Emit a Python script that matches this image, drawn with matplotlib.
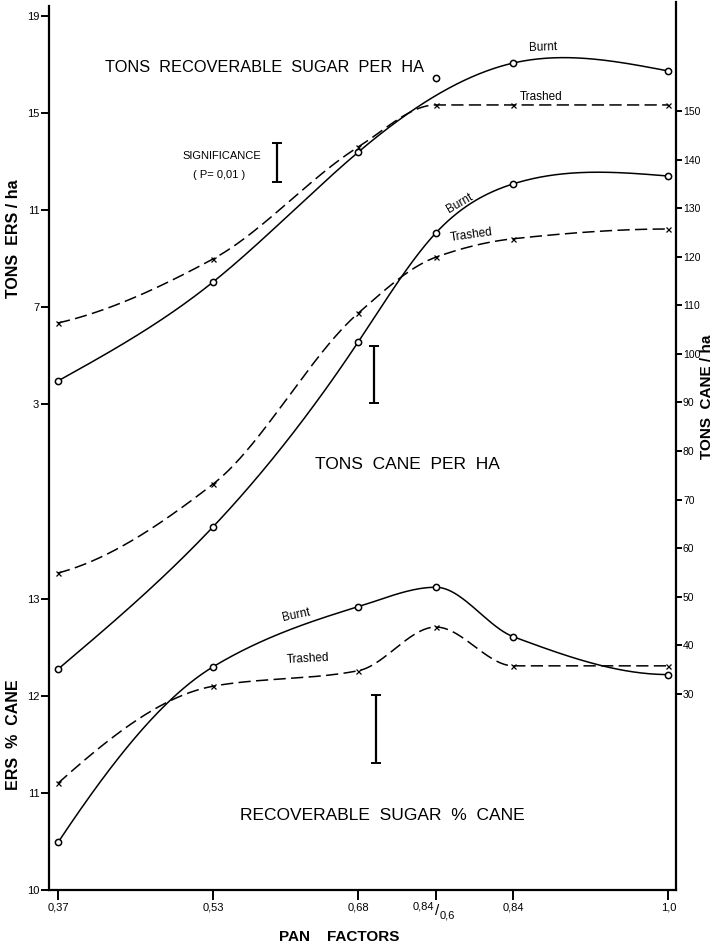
import numpy as np
import matplotlib
matplotlib.use('Agg')
import matplotlib.pyplot as plt

# ---------------- data ----------------
pan_pos = [0.37, 0.53, 0.68, 0.76, 0.84, 1.0]
pan_labels = ['0,37', '0,53', '0,68', '', '0,84', '1,0']

ers_ha_burnt = [3.95, 8.03, 13.39, 16.44, 17.06, 16.73]
ers_ha_trashed = [6.34, 8.98, 13.60, 15.33, 15.33, 15.33]
cane_burnt = [35.1, 64.4, 102.5, 124.9, 135.0, 136.6]
cane_trashed = [54.9, 73.2, 108.4, 119.9, 123.7, 125.7]
ers_pct_burnt = [10.49, 12.30, 12.92, 13.12, 12.61, 12.22]
ers_pct_trashed = [11.10, 12.10, 12.26, 12.71, 12.31, 12.31]

# significance (LSD, P=0.01)
sig_ers_ha = 1.6
sig_cane = 11.7
sig_pct = 0.70

ers_ticks = [19, 15, 11, 7, 3]
pct_ticks = [13, 12, 11, 10]
cane_ticks = [150, 140, 130, 120, 110, 100, 90, 80, 70, 60, 50, 40, 30]


# ---------------- smoothing helpers ----------------
def natural_spline(x, y, xs):
    x = np.asarray(x, float); y = np.asarray(y, float)
    n = len(x); h = np.diff(x)
    A = np.zeros((n, n)); r = np.zeros(n)
    A[0, 0] = A[-1, -1] = 1.0
    for i in range(1, n - 1):
        A[i, i - 1] = h[i - 1]; A[i, i] = 2 * (h[i - 1] + h[i]); A[i, i + 1] = h[i]
        r[i] = 3 * ((y[i + 1] - y[i]) / h[i] - (y[i] - y[i - 1]) / h[i - 1])
    c = np.linalg.solve(A, r)
    b = (y[1:] - y[:-1]) / h - h * (2 * c[:-1] + c[1:]) / 3
    d = (c[1:] - c[:-1]) / (3 * h)
    idx = np.clip(np.searchsorted(x, xs) - 1, 0, n - 2)
    t = xs - x[idx]
    return y[idx] + b[idx] * t + c[idx] * t ** 2 + d[idx] * t ** 3


def pchip(x, y, xs):
    x = np.asarray(x, float); y = np.asarray(y, float)
    n = len(x); h = np.diff(x); dl = np.diff(y) / h
    d = np.zeros(n)
    for k in range(1, n - 1):
        if dl[k - 1] * dl[k] > 0:
            w1 = 2 * h[k] + h[k - 1]; w2 = h[k] + 2 * h[k - 1]
            d[k] = (w1 + w2) / (w1 / dl[k - 1] + w2 / dl[k])

    def edge(h0, h1, m0, m1):
        dd = ((2 * h0 + h1) * m0 - h0 * m1) / (h0 + h1)
        if np.sign(dd) != np.sign(m0):
            dd = 0.0
        elif np.sign(m0) != np.sign(m1) and abs(dd) > 3 * abs(m0):
            dd = 3 * m0
        return dd
    d[0] = edge(h[0], h[1], dl[0], dl[1])
    d[-1] = edge(h[-1], h[-2], dl[-1], dl[-2])
    idx = np.clip(np.searchsorted(x, xs) - 1, 0, n - 2)
    t = (xs - x[idx]) / h[idx]
    h00 = 2 * t ** 3 - 3 * t ** 2 + 1; h10 = t ** 3 - 2 * t ** 2 + t
    h01 = -2 * t ** 3 + 3 * t ** 2; h11 = t ** 3 - t ** 2
    return h00 * y[idx] + h10 * h[idx] * d[idx] + h01 * y[idx + 1] + h11 * h[idx] * d[idx + 1]


# ---------------- figure ----------------
W, H = 715, 946
fig = plt.figure(figsize=(W / 100, H / 100), dpi=100)
plt.rcParams['font.family'] = ['Liberation Sans', 'DejaVu Sans']

L, R, B, T = 49, 676, 890, 6
rect = [L / W, 1 - B / H, (R - L) / W, (B - T) / H]
ax = fig.add_axes(rect)           # cane axis (right)
ax_ers = fig.add_axes(rect, sharex=ax)   # ERS t/ha (left, top part)
ax_pct = fig.add_axes(rect, sharex=ax)   # ERS % cane (left, bottom part)
for a in (ax_ers, ax_pct):
    a.patch.set_visible(False)

# y-limits set so that each scale sits where it does in the reference
ax.set_ylim(-10.35, 171.6)
ax_ers.set_ylim(-17.04, 19.41)
ax_pct.set_ylim(10.0, 19.11)
ax.set_xlim(0.3607, 1.0078)

xs = np.linspace(0.37, 1.0, 400)
dash = (0, (8, 3.5))
lw = 1.1
mk_o = dict(marker='o', ms=4.5, mfc='white', mec='black', mew=1.1, ls='none', zorder=5)
mk_x = dict(marker='x', ms=3.6, mec='black', mew=0.9, ls='none', zorder=5)

# ERS per ha
burnt_fit = [i for i in range(len(pan_pos)) if i != 3]
ax_ers.plot(xs, natural_spline(np.array(pan_pos)[burnt_fit], np.array(ers_ha_burnt)[burnt_fit], xs),
            color='black', lw=lw)
ax_ers.plot(xs, pchip(pan_pos, ers_ha_trashed, xs), color='black', lw=lw, ls=dash)
ax_ers.plot(pan_pos, ers_ha_burnt, **mk_o)
ax_ers.plot(pan_pos, ers_ha_trashed, **mk_x)

# cane per ha
ax.plot(xs, natural_spline(pan_pos, cane_burnt, xs), color='black', lw=lw)
ax.plot(xs, pchip(pan_pos, cane_trashed, xs), color='black', lw=lw, ls=dash)
ax.plot(pan_pos, cane_burnt, **mk_o)
ax.plot(pan_pos, cane_trashed, **mk_x)

# ERS % cane
ax_pct.plot(xs, pchip(pan_pos, ers_pct_burnt, xs), color='black', lw=lw)
ax_pct.plot(xs, pchip(pan_pos, ers_pct_trashed, xs), color='black', lw=lw, ls=dash)
ax_pct.plot(pan_pos, ers_pct_burnt, **mk_o)
ax_pct.plot(pan_pos, ers_pct_trashed, **mk_x)

# significance bars
eb = dict(fmt='none', ecolor='black', elinewidth=1.6, capsize=3.5, capthick=1.4)
ax_ers.errorbar([0.596], [12.96], yerr=[sig_ers_ha / 2], **eb)
ax.errorbar([0.696], [95.75], yerr=[sig_cane / 2], **eb)
ax_pct.errorbar([0.698], [11.66], yerr=[sig_pct / 2], **eb)

# ---------------- axes styling ----------------
for a in (ax, ax_ers, ax_pct):
    for s in a.spines.values():
        s.set_visible(False)
    a.tick_params(axis='x', which='both', bottom=False, labelbottom=False)
    a.set_yticks([])

ax.spines['bottom'].set_visible(True)
ax.spines['bottom'].set_linewidth(1.6)
ax.spines['right'].set_visible(True)
ax.spines['right'].set_linewidth(1.6)
ax.spines['right'].set_bounds(-10.35, 172.5)
ax_ers.spines['left'].set_visible(True)
ax_ers.spines['left'].set_linewidth(1.6)

ax.set_xticks(pan_pos)
ax.set_xticklabels(pan_labels)
ax.tick_params(axis='x', bottom=True, labelbottom=True, direction='out', length=7, width=1.4,
               labelsize=8, pad=2)

ax.yaxis.set_ticks_position('right')
ax.set_yticks(cane_ticks)
ax.set_yticklabels([str(v) for v in cane_ticks])
ax.tick_params(axis='y', right=True, left=False, labelright=True, labelleft=False,
               direction='out', length=4.5, width=1.4, labelsize=7.5, pad=0.5)

ax_ers.yaxis.set_ticks_position('left')
ax_ers.set_yticks(ers_ticks)
ax_ers.set_yticklabels([str(v) for v in ers_ticks])
ax_ers.tick_params(axis='y', direction='out', length=6, width=1.4, labelsize=8, pad=1)

ax_pct.yaxis.set_ticks_position('left')
ax_pct.set_yticks(pct_ticks)
ax_pct.set_yticklabels([str(v) for v in pct_ticks])
ax_pct.tick_params(axis='y', direction='out', length=6, width=1.4, labelsize=8, pad=1)

# special x tick label 0,84/0,6
ax.annotate('0,84', xy=(0.76, 0), xycoords=('data', 'axes fraction'), xytext=(-1, -12),
            textcoords='offset points', ha='right', va='center', fontsize=8)
ax.annotate('/', xy=(0.76, 0), xycoords=('data', 'axes fraction'), xytext=(1, -15),
            textcoords='offset points', ha='center', va='center', fontsize=11)
ax.annotate('0,6', xy=(0.76, 0), xycoords=('data', 'axes fraction'), xytext=(2.5, -18),
            textcoords='offset points', ha='left', va='center', fontsize=8)


def fx(px):
    return px / W


def fy(py):
    return 1 - py / H


# ---------------- texts ----------------
fig.text(fx(105), fy(68), 'TONS  RECOVERABLE  SUGAR  PER  HA', fontsize=11.8, ha='left', va='center')
fig.text(fx(182), fy(156), 'SIGNIFICANCE', fontsize=8, ha='left', va='center')
fig.text(fx(193), fy(175), '( P= 0,01 )', fontsize=8, ha='left', va='center')
fig.text(fx(543), fy(48), 'Burnt', fontsize=8.5, ha='center', va='center', rotation=2)
fig.text(fx(541), fy(97), 'Trashed', fontsize=8.5, ha='center', va='center')
fig.text(fx(460), fy(203), 'Burnt', fontsize=8.5, ha='center', va='center', rotation=30)
fig.text(fx(471), fy(235), 'Trashed', fontsize=8.5, ha='center', va='center', rotation=8)
fig.text(fx(315), fy(464), 'TONS  CANE  PER  HA', fontsize=12.5, ha='left', va='center')
fig.text(fx(296), fy(615), 'Burnt', fontsize=8.5, ha='center', va='center', rotation=12)
fig.text(fx(308), fy(659), 'Trashed', fontsize=8.5, ha='center', va='center', rotation=3)
fig.text(fx(240), fy(815), 'RECOVERABLE  SUGAR  %  CANE', fontsize=12.5, ha='left', va='center')

fig.text(fx(14), fy(239), 'TONS  ERS / ha', fontsize=11.5, fontweight='bold', rotation=90,
         ha='center', va='center')
fig.text(fx(14), fy(735), 'ERS  %  CANE', fontsize=11.5, fontweight='bold', rotation=90,
         ha='center', va='center')
fig.text(fx(707), fy(397), 'TONS  CANE / ha', fontsize=11, fontweight='bold', rotation=90,
         ha='center', va='center')
fig.text(fx(339), fy(937), 'PAN    FACTORS', fontsize=11, fontweight='bold', ha='center', va='center')

fig.savefig('out.png', dpi=100)
